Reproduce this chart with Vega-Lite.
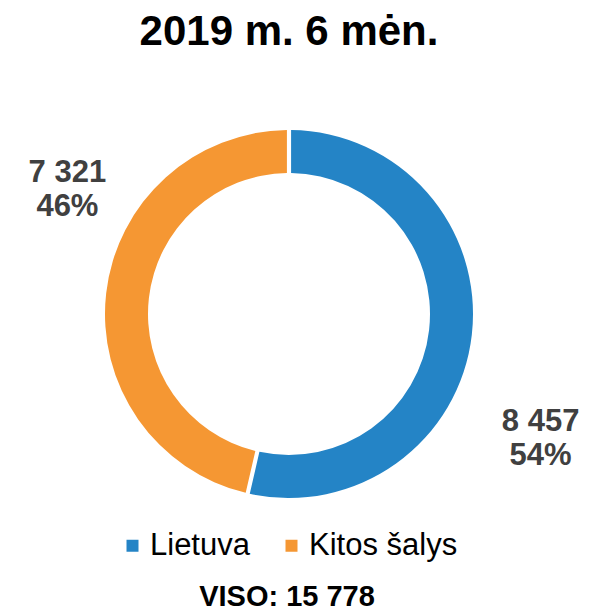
{
  "$schema": "https://vega.github.io/schema/vega-lite/v6.json",
  "width": 578,
  "height": 380,
  "padding": {"left": 0, "top": 11, "right": 0, "bottom": 0},
  "autosize": {"type": "pad"},
  "background": "white",
  "config": {"view": {"stroke": null}},
  "title": {
    "text": "2019 m. 6 mėn.",
    "font": "Liberation Sans",
    "fontSize": 42,
    "fontWeight": "bold",
    "color": "#000000",
    "anchor": "middle",
    "offset": 70
  },
  "data": {
    "values": [
      {"country": "Lietuva", "value": 8457, "label": "8 457\n54%"},
      {"country": "Kitos šalys", "value": 7321, "label": "7 321\n46%"}
    ]
  },
  "encoding": {
    "theta": {"field": "value", "type": "quantitative", "stack": true},
    "order": {"field": "value", "type": "quantitative", "sort": "descending"}
  },
  "layer": [
    {
      "mark": {"type": "arc", "innerRadius": 141, "outerRadius": 184, "padAngle": 0.018},
      "encoding": {
        "color": {
          "field": "country",
          "type": "nominal",
          "scale": {"domain": ["Lietuva", "Kitos šalys"], "range": ["#2484C6", "#F59733"]},
          "legend": {
            "orient": "none",
            "legendX": 117,
            "legendY": 406,
            "direction": "horizontal",
            "columns": 2,
            "padding": 0,
            "symbolType": "square",
            "symbolSize": 144,
            "symbolStrokeWidth": 0,
            "labelFont": "Liberation Sans",
            "labelFontSize": 31,
            "labelColor": "#000000",
            "labelOffset": 2,
            "columnPadding": 26,
            "title": "VISO: 15 778",
            "titleOrient": "bottom",
            "titleAnchor": "middle",
            "titleFont": "Liberation Sans",
            "titleFontSize": 29,
            "titleFontWeight": "bold",
            "titleColor": "#000000",
            "titlePadding": 22
          }
        }
      }
    },
    {
      "mark": {"type": "text", "radius": 220, "dx": 33, "dy": 83, "font": "Liberation Sans", "fontSize": 31, "fontWeight": "bold", "color": "#404040", "lineBreak": "\n", "lineHeight": 34, "align": "center", "baseline": "middle"},
      "encoding": {
        "text": {"condition": {"test": "datum.country === 'Lietuva'", "field": "label"}, "value": ""}
      }
    },
    {
      "mark": {"type": "text", "radius": 220, "dx": -3, "dy": -116, "font": "Liberation Sans", "fontSize": 31, "fontWeight": "bold", "color": "#404040", "lineBreak": "\n", "lineHeight": 34, "align": "center", "baseline": "middle"},
      "encoding": {
        "text": {"condition": {"test": "datum.country === 'Kitos šalys'", "field": "label"}, "value": ""}
      }
    }
  ]
}
